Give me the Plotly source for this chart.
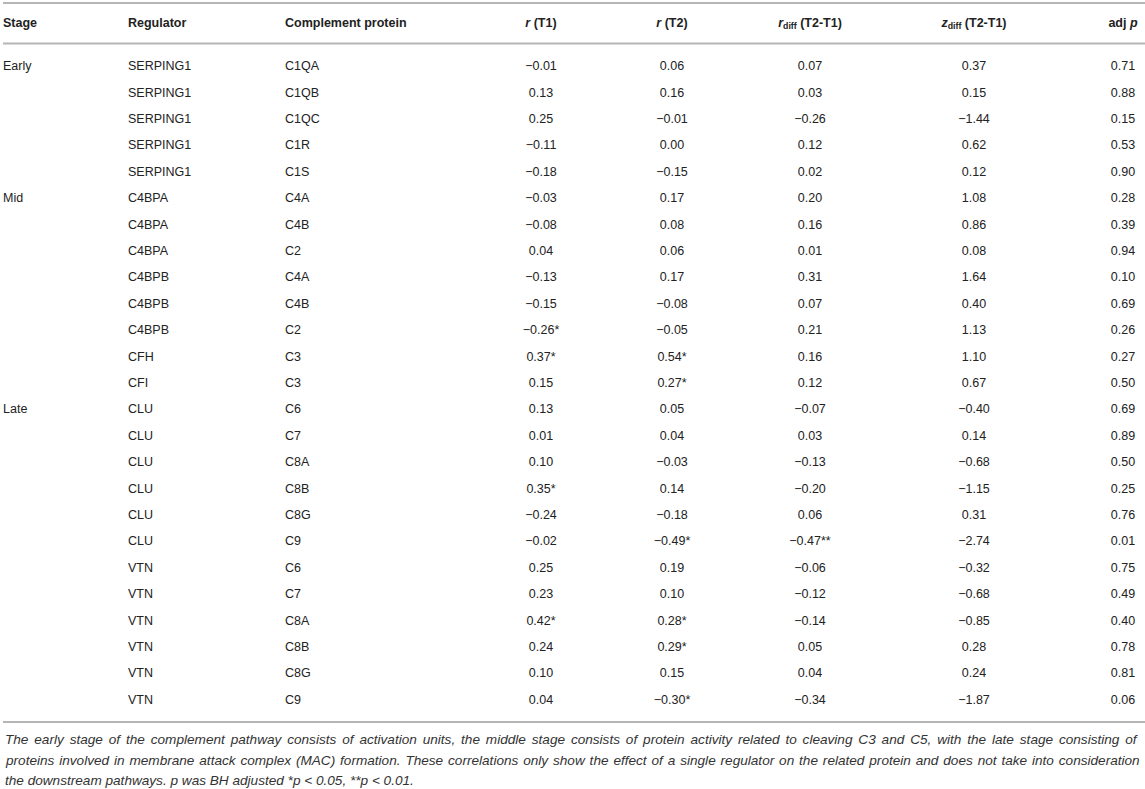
import plotly.graph_objects as go

# ---------------- data ----------------
stages = ["Early", "", "", "", "",
          "Mid", "", "", "", "", "", "", "",
          "Late", "", "", "", "", "", "", "", "", "", "", ""]
regulators = ["SERPING1", "SERPING1", "SERPING1", "SERPING1", "SERPING1",
              "C4BPA", "C4BPA", "C4BPA", "C4BPB", "C4BPB", "C4BPB", "CFH", "CFI",
              "CLU", "CLU", "CLU", "CLU", "CLU", "CLU",
              "VTN", "VTN", "VTN", "VTN", "VTN", "VTN"]
proteins = ["C1QA", "C1QB", "C1QC", "C1R", "C1S",
            "C4A", "C4B", "C2", "C4A", "C4B", "C2", "C3", "C3",
            "C6", "C7", "C8A", "C8B", "C8G", "C9",
            "C6", "C7", "C8A", "C8B", "C8G", "C9"]
r_t1 = [-0.01, 0.13, 0.25, -0.11, -0.18,
        -0.03, -0.08, 0.04, -0.13, -0.15, -0.26, 0.37, 0.15,
        0.13, 0.01, 0.10, 0.35, -0.24, -0.02,
        0.25, 0.23, 0.42, 0.24, 0.10, 0.04]
r_t1_sig = ["", "", "", "", "",
            "", "", "", "", "", "*", "*", "",
            "", "", "", "*", "", "",
            "", "", "*", "", "", ""]
r_t2 = [0.06, 0.16, -0.01, 0.00, -0.15,
        0.17, 0.08, 0.06, 0.17, -0.08, -0.05, 0.54, 0.27,
        0.05, 0.04, -0.03, 0.14, -0.18, -0.49,
        0.19, 0.10, 0.28, 0.29, 0.15, -0.30]
r_t2_sig = ["", "", "", "", "",
            "", "", "", "", "", "", "*", "*",
            "", "", "", "", "", "*",
            "", "", "*", "*", "", "*"]
r_diff = [0.07, 0.03, -0.26, 0.12, 0.02,
          0.20, 0.16, 0.01, 0.31, 0.07, 0.21, 0.16, 0.12,
          -0.07, 0.03, -0.13, -0.20, 0.06, -0.47,
          -0.06, -0.12, -0.14, 0.05, 0.04, -0.34]
r_diff_sig = ["", "", "", "", "",
              "", "", "", "", "", "", "", "",
              "", "", "", "", "", "**",
              "", "", "", "", "", ""]
z_diff = [0.37, 0.15, -1.44, 0.62, 0.12,
          1.08, 0.86, 0.08, 1.64, 0.40, 1.13, 1.10, 0.67,
          -0.40, 0.14, -0.68, -1.15, 0.31, -2.74,
          -0.32, -0.68, -0.85, 0.28, 0.24, -1.87]
adj_p = [0.71, 0.88, 0.15, 0.53, 0.90,
         0.28, 0.39, 0.94, 0.10, 0.69, 0.26, 0.27, 0.50,
         0.69, 0.89, 0.50, 0.25, 0.76, 0.01,
         0.75, 0.49, 0.40, 0.78, 0.81, 0.06]

headers = ["<b>Stage</b>", "<b>Regulator</b>", "<b>Complement protein</b>",
           "<b><i>r</i> (T1)</b>", "<b><i>r</i> (T2)</b>",
           "<b><i>r</i><sub>diff</sub> (T2-T1)</b>",
           "<b><i>z</i><sub>diff</sub> (T2-T1)</b>",
           "<b>adj <i>p</i></b>"]

footnote_lines = [
    "The early stage of the complement pathway consists of activation units, the middle stage consists of protein activity related to cleaving C3 and C5, with the late stage consisting of",
    "proteins involved in membrane attack complex (MAC) formation. These correlations only show the effect of a single regulator on the related protein and does not take into consideration",
    "the downstream pathways. <i>p</i> was BH adjusted *<i>p</i> &lt; 0.05, **<i>p</i> &lt; 0.01.",
]

# ---------------- layout constants ----------------
W, H = 1145, 789
ROW0_PX, ROW_H = 67, 26.4


def px2row(p):
    return (p - ROW0_PX) / ROW_H


col_x = [3, 128, 285, 541, 672, 810, 974, 1123]
col_pos = ["middle right"] * 3 + ["middle center"] * 5
FONT = "Liberation Sans, Arial, Helvetica, sans-serif"
TXT = "#222222"
FS = 12.5
# extra word spacing (px) to mimic the justified footnote lines
foot_wordspacing = [2.1, 1.1, 0]


def fmt(v, sig=""):
    s = f"{abs(v):.2f}"
    if v < 0:
        s = "\u2212" + s
    return s + sig


rows = list(range(len(regulators)))
columns = [
    stages,
    regulators,
    proteins,
    [fmt(v, s) for v, s in zip(r_t1, r_t1_sig)],
    [fmt(v, s) for v, s in zip(r_t2, r_t2_sig)],
    [fmt(v, s) for v, s in zip(r_diff, r_diff_sig)],
    [fmt(v) for v in z_diff],
    [fmt(v) for v in adj_p],
]

fig = go.Figure()

for cx, pos, texts in zip(col_x, col_pos, columns):
    keep = [i for i, t in zip(rows, texts) if t]
    fig.add_trace(go.Scatter(
        x=[cx] * len(keep), y=keep, mode="text", text=[texts[i] for i in keep],
        textposition=pos, textfont=dict(family=FONT, size=FS, color=TXT),
        hoverinfo="skip", cliponaxis=False, showlegend=False))

# header row
fig.add_trace(go.Scatter(
    x=col_x, y=[px2row(23.5)] * len(col_x), mode="text", text=headers,
    textposition=col_pos, textfont=dict(family=FONT, size=FS, color=TXT),
    hoverinfo="skip", cliponaxis=False, showlegend=False))

# horizontal rules
for ypx in (3, 43.5, 722):
    fig.add_shape(type="line", xref="x", yref="y", x0=3, x1=W,
                  y0=px2row(ypx), y1=px2row(ypx),
                  line=dict(color="#b5b5b5", width=2))

# footnote
for line, ypx, ws in zip(footnote_lines, (739, 760, 780), foot_wordspacing):
    txt = f"<i>{line}</i>"
    if ws:
        txt = f'<span style="word-spacing:{ws}px">{txt}</span>'
    fig.add_annotation(x=3, y=px2row(ypx), xref="x", yref="y",
                       text=txt, showarrow=False,
                       xanchor="left", yanchor="middle",
                       font=dict(family=FONT, size=13.6, color="#333333"))

fig.update_layout(
    width=W, height=H,
    margin=dict(l=0, r=0, t=0, b=0),
    paper_bgcolor="white", plot_bgcolor="white",
    xaxis=dict(visible=False, range=[0, W], fixedrange=True),
    yaxis=dict(visible=False, range=[px2row(H), px2row(0)], fixedrange=True),
    showlegend=False,
)

fig.write_html(
    "out.html",
    config={"displayModeBar": False, "staticPlot": True},
    post_script="document.body.style.margin='0';document.body.style.overflow='hidden';",
)
